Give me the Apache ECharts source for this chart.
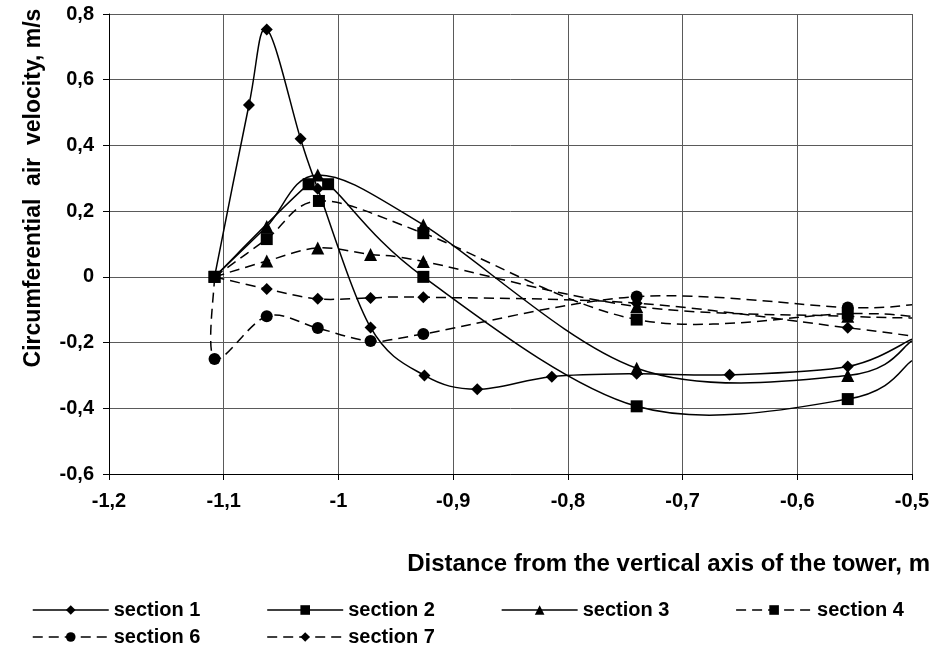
<!DOCTYPE html>
<html>
<head>
<meta charset="utf-8">
<script src="https://cdn.jsdelivr.net/npm/echarts@6/dist/echarts.min.js"></script>
<style>
html,body{margin:0;padding:0;background:#fff;}
#chart{width:937px;height:658px;}
</style>
</head>
<body>
<div id="chart"></div>
<script>
// ---- data ----
const xTickLabels = ['-1,2','-1,1','-1','-0,9','-0,8','-0,7','-0,6','-0,5'];
const yTickLabels = ['-0,6','-0,4','-0,2','0','0,2','0,4','0,6','0,8'];

const s1x = [-1.108, -1.078, -1.0625, -1.033, -1.018, -0.972, -0.925, -0.879, -0.814, -0.74, -0.659, -0.556, -0.5];
const s1y = [0, 0.523, 0.753, 0.42, 0.268, -0.154, -0.30, -0.342, -0.304, -0.295, -0.298, -0.273, -0.19];

const s2x = [-1.108, -1.026, -1.009, -0.926, -0.74, -0.556, -0.5];
const s2y = [0, 0.282, 0.282, 0.0, -0.394, -0.372, -0.255];

const s3x = [-1.108, -1.0625, -1.018, -0.926, -0.74, -0.556, -0.5];
const s3y = [0, 0.153, 0.31, 0.158, -0.278, -0.30, -0.195];

const s4x = [-1.108, -1.0625, -1.017, -0.926, -0.74, -0.556, -0.5];
const s4y = [0, 0.115, 0.231, 0.133, -0.13, -0.112, -0.12];

const s5x = [-1.108, -1.0625, -1.018, -0.972, -0.926, -0.74, -0.556, -0.5];
const s5y = [0, 0.048, 0.088, 0.068, 0.047, -0.09, -0.12, -0.125];

const s6x = [-1.108, -1.108, -1.0625, -1.018, -0.972, -0.926, -0.74, -0.556, -0.5];
const s6y = [0, -0.25, -0.12, -0.156, -0.195, -0.174, -0.06, -0.093, -0.085];

const s7x = [-1.108, -1.0625, -1.018, -0.972, -0.926, -0.74, -0.556, -0.5];
const s7y = [0, -0.037, -0.067, -0.064, -0.062, -0.08, -0.155, -0.18];

const seriesNames = ['section 1','section 2','section 3','section 4','section 5','section 6','section 7'];
const legendRow1 = ['section 1','section 2','section 3','section 4'];
const legendRow2 = ['section 6','section 7'];

const xTitle = 'Distance from the vertical axis of the tower, m';
const yTitle = 'Circumferential  air  velocity, m/s';

// ---- build ----
const FONT = '"Liberation Sans", Arial, sans-serif';
const DASH = [10, 6];
const LW = 1.5;

const defs = [
  // name, xs, ys, symbol, dashed, hideFirst, z
  [seriesNames[0], s1x, s1y, 'diamond', false, true, 3],
  [seriesNames[2], s3x, s3y, 'triangle', false, true, 3],
  [seriesNames[4], s5x, s5y, 'triangle', true, true, 3],
  [seriesNames[5], s6x, s6y, 'circle', true, true, 3],
  [seriesNames[6], s7x, s7y, 'diamond', true, true, 3],
  [seriesNames[3], s4x, s4y, 'rect', true, false, 4],
  [seriesNames[1], s2x, s2y, 'rect', false, false, 5]
];
const dashedOf = {}; defs.forEach(d => { dashedOf[d[0]] = d[4]; });

function makeData(xs, ys, hideFirst) {
  const last = xs.length - 1;
  return xs.map((x, i) => {
    const item = { value: [x, ys[i]] };
    if (i === last || (hideFirst && i === 0)) item.symbol = 'none';
    return item;
  });
}

// symbols (line series, invisible line)
function markerSeries(d) {
  const [name, xs, ys, symbol, dashed, hideFirst, z] = d;
  return {
    name: name, type: 'line', smooth: false,
    data: makeData(xs, ys, hideFirst),
    symbol: symbol, symbolSize: symbol === 'triangle' ? 13 : 12,
    showAllSymbol: true, z: z + 10,
    lineStyle: { color: '#000', width: LW, opacity: 0, type: dashed ? DASH : 'solid' },
    itemStyle: { color: '#000' },
    emphasis: { disabled: true }, animation: false
  };
}

// smoothed curve (Catmull-Rom bezier through the data, through the axes' scales)
function curveSeries(d) {
  const [name, xs, ys, symbol, dashed, hideFirst, z] = d;
  return {
    name: name + ' curve', type: 'custom', clip: true, silent: true, z: z,
    encode: { x: 0, y: 1 },
    data: xs.map((x, i) => [x, ys[i]]),
    renderItem: function (params, api) {
      if (params.dataIndex !== 0) return null;
      const P = xs.map((x, i) => api.coord([x, ys[i]]));
      const n = P.length;
      let path = 'M' + P[0][0] + ' ' + P[0][1];
      for (let i = 0; i < n - 1; i++) {
        const p0 = P[Math.max(i - 1, 0)], p1 = P[i], p2 = P[i + 1], p3 = P[Math.min(i + 2, n - 1)];
        const c1x = p1[0] + (p2[0] - p0[0]) / 6, c1y = p1[1] + (p2[1] - p0[1]) / 6;
        const c2x = p2[0] - (p3[0] - p1[0]) / 6, c2y = p2[1] - (p3[1] - p1[1]) / 6;
        path += ' C' + c1x + ' ' + c1y + ' ' + c2x + ' ' + c2y + ' ' + p2[0] + ' ' + p2[1];
      }
      return {
        type: 'path',
        shape: { pathData: path },
        style: { stroke: '#000', fill: 'none', lineWidth: LW, lineDash: dashed ? DASH : null }
      };
    },
    animation: false
  };
}

function legendItems(names) {
  return names.map(n => ({
    name: n,
    lineStyle: { color: '#000', width: LW, opacity: 1, type: dashedOf[n] ? DASH : 'solid' }
  }));
}

const xMap = {}; xTickLabels.forEach((t, i) => { xMap[(-1.2 + i * 0.1).toFixed(1)] = t; });
const yMap = {}; yTickLabels.forEach((t, i) => { yMap[(-0.6 + i * 0.2).toFixed(1)] = t; });

const legendText = { color: '#000', fontFamily: FONT, fontWeight: 'bold', fontSize: 20 };

const chart = echarts.init(document.getElementById('chart'), null, { renderer: 'canvas' });
chart.setOption({
  backgroundColor: '#fff',
  animation: false,
  grid: { left: 109, right: 25, top: 14, bottom: 184, containLabel: false },
  xAxis: {
    type: 'value', min: -1.2, max: -0.5, interval: 0.1,
    axisLine: { show: true, onZero: false, lineStyle: { color: '#000', width: 1 } },
    axisTick: { show: true, length: 6, lineStyle: { color: '#000' } },
    axisLabel: { margin: 17, color: '#000', fontFamily: FONT, fontWeight: 'bold', fontSize: 20,
      formatter: v => xMap[(+v).toFixed(1)] },
    splitLine: { show: true, lineStyle: { color: '#5a5a5a', width: 1 } }
  },
  yAxis: {
    type: 'value', min: -0.6, max: 0.8, interval: 0.2,
    axisLine: { show: true, onZero: false, lineStyle: { color: '#000', width: 1 } },
    axisTick: { show: true, length: 6, lineStyle: { color: '#000' } },
    axisLabel: { margin: 15, color: '#000', fontFamily: FONT, fontWeight: 'bold', fontSize: 20,
      formatter: v => yMap[(+v).toFixed(1)] },
    splitLine: { show: true, lineStyle: { color: '#5a5a5a', width: 1 } }
  },
  legend: [
    { data: legendItems(legendRow1), left: 27, top: 595, itemWidth: 76, itemHeight: 12, itemGap: 66,
      textStyle: legendText, selectedMode: false },
    { data: legendItems(legendRow2), left: 27, top: 622, itemWidth: 76, itemHeight: 12, itemGap: 66,
      textStyle: legendText, selectedMode: false }
  ],
  graphic: [
    { type: 'text', x: 34, y: 188, rotation: Math.PI / 2,
      style: { text: yTitle, fill: '#000', font: 'bold 23px ' + FONT, align: 'center', verticalAlign: 'middle' } },
    { type: 'text', x: 930, y: 564,
      style: { text: xTitle, fill: '#000', font: 'bold 24px ' + FONT, align: 'right', verticalAlign: 'middle' } }
  ],
  series: defs.map(curveSeries).concat(defs.map(markerSeries))
});
</script>
</body>
</html>
